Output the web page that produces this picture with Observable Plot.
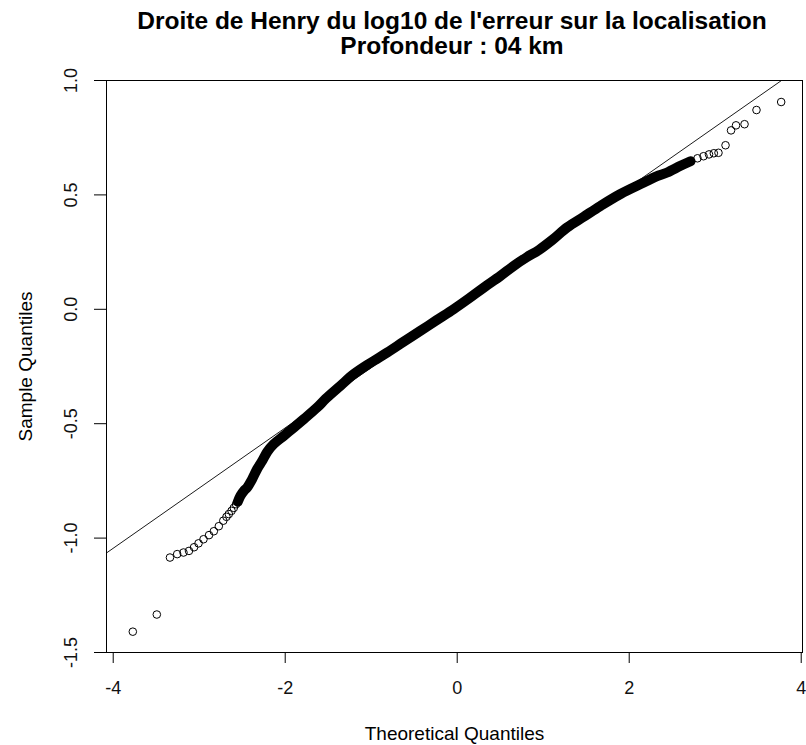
<!DOCTYPE html>
<html><head><meta charset="utf-8">
<script src="https://cdn.jsdelivr.net/npm/d3@7"></script>
<script src="https://cdn.jsdelivr.net/npm/@observablehq/plot@0.6"></script>
<style>
body{margin:0;background:#fff;font-family:"Liberation Sans",Arial,sans-serif;}
#title{width:806px;height:60px;box-sizing:border-box;padding:8px 0 0 98px;text-align:center;font-weight:bold;font-size:24.5px;color:#000;}
#title div{height:25px;line-height:25px;white-space:nowrap;}
#chart svg{display:block;}
</style></head><body>
<div id="title"><div>Droite de Henry du log10 de l'erreur sur la localisation</div><div>Profondeur : 04 km</div></div>
<div id="chart"></div>
<script>
// Theoretical (x) and sample (y) quantiles
const tailLowX = [-3.772, -3.493, -3.340, -3.256, -3.183, -3.119, -3.060, -3.008, -2.950, -2.886, -2.830, -2.772, -2.720, -2.683, -2.656, -2.624, -2.598, -2.572];
const tailLowY = [-1.409, -1.334, -1.085, -1.070, -1.063, -1.056, -1.040, -1.023, -1.005, -0.987, -0.970, -0.948, -0.924, -0.907, -0.895, -0.881, -0.868, -0.852];
// dense, over-plotted central part
const bandX = [-2.551, -2.520, -2.479, -2.442, -2.384, -2.326, -2.267, -2.209, -2.133, -2.016, -1.900, -1.784, -1.628, -1.531, -1.357, -1.202, -1.008, -0.814, -0.624, -0.427, -0.241, -0.040, 0.131, 0.309, 0.503, 0.658, 0.806, 0.949, 1.108, 1.279, 1.469, 1.666, 1.899, 2.170, 2.317, 2.442, 2.597, 2.713];
const bandY = [-0.841, -0.815, -0.793, -0.779, -0.742, -0.698, -0.662, -0.623, -0.589, -0.553, -0.517, -0.480, -0.429, -0.392, -0.334, -0.283, -0.234, -0.189, -0.142, -0.094, -0.048, 0.001, 0.046, 0.095, 0.146, 0.190, 0.227, 0.259, 0.304, 0.358, 0.404, 0.452, 0.504, 0.554, 0.581, 0.598, 0.627, 0.647];
const tailHighX = [2.794, 2.864, 2.928, 2.984, 3.038, 3.120, 3.184, 3.242, 3.341, 3.480, 3.767];
const tailHighY = [0.660, 0.669, 0.677, 0.682, 0.684, 0.717, 0.782, 0.804, 0.809, 0.871, 0.906];
// reference line (qqline) end points
const qqLineX = [-4.2, 4.2];
const qqLineY = [-1.097, 1.113];
// axes
const xTicks = [-4, -2, 0, 2, 4];
const xTickLabels = ["-4", "-2", "0", "2", "4"];
const yTicks = [-1.5, -1.0, -0.5, 0.0, 0.5, 1.0];
const yTickLabels = ["-1.5", "-1.0", "-0.5", "0.0", "0.5", "1.0"];
const xLabel = "Theoretical Quantiles";
const yLabel = "Sample Quantiles";

const rows = (xs, ys) => xs.map((x, i) => ({x, y: ys[i]}));
const band = rows(bandX, bandY);
const points = [...rows(tailLowX, tailLowY), ...band, ...rows(tailHighX, tailHighY)];
const qqLine = rows(qqLineX, qqLineY);
const xTickRows = xTicks.map((v, i) => ({v, label: xTickLabels[i]}));
const yTickRows = yTicks.map((v, i) => ({v, label: yTickLabels[i]}));

const font = '"Liberation Sans", Arial, sans-serif';
const chart = Plot.plot({
  width: 806,
  height: 685,
  marginLeft: 106,
  marginRight: 4,
  marginTop: 20,
  marginBottom: 93,
  x: {domain: [-4.078, 4.015], axis: null},
  y: {domain: [-1.5, 1.0], axis: null},
  style: {fontFamily: font, background: "#fff", overflow: "visible", color: "#000"},
  marks: [
    Plot.line(qqLine, {x: "x", y: "y", stroke: "#000", strokeWidth: 0.9, clip: true}),
    Plot.line(band, {x: "x", y: "y", stroke: "#000", strokeWidth: 10, strokeLinecap: "round", strokeLinejoin: "round", curve: "catmull-rom"}),
    Plot.dot(points, {x: "x", y: "y", r: 3.8, stroke: "#000", strokeWidth: 1, fill: "none"}),
    Plot.frame({stroke: "#000", strokeWidth: 1}),
    Plot.tickX(xTicks, {x: d => d, stroke: "#000", insetTop: 572, insetBottom: -11}),
    Plot.tickY(yTicks, {y: d => d, stroke: "#000", insetLeft: -12, insetRight: 696}),
    Plot.text(xTickRows, {x: "v", text: "label", frameAnchor: "bottom", lineAnchor: "bottom", dy: 41.5, fontSize: 18, fill: "#111"}),
    Plot.text(yTickRows, {y: "v", text: "label", frameAnchor: "left", rotate: -90, textAnchor: "middle", lineAnchor: "bottom", dx: -29.5, fontSize: 18, fill: "#111"}),
    Plot.text([xLabel], {text: d => d, frameAnchor: "bottom", lineAnchor: "bottom", dy: 87, fontSize: 19, fill: "#000"}),
    Plot.text([yLabel], {text: d => d, frameAnchor: "left", rotate: -90, textAnchor: "middle", lineAnchor: "bottom", dx: -75, fontSize: 19, fill: "#000"})
  ]
});
document.getElementById("chart").appendChild(chart);
</script>
</body></html>
